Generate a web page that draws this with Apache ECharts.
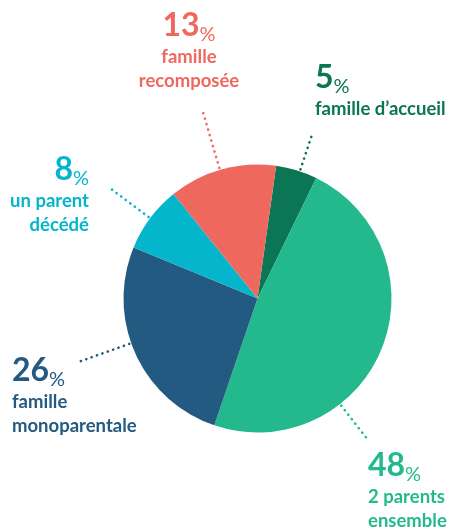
<!DOCTYPE html>
<html>
<head>
<meta charset="utf-8">
<script src="https://cdn.jsdelivr.net/npm/echarts@6.0.0/dist/echarts.min.js"></script>
<style>
  html, body { margin: 0; padding: 0; background: #fff; }
  #chart { width: 453px; height: 532px; }
</style>
</head>
<body>
<div id="chart"></div>
<script>
// slices in clockwise order, starting just right of 12 o'clock
const categories = ['famille d’accueil', '2 parents\nensemble', 'famille\nmonoparentale', 'un parent\ndécédé', 'famille\nrecomposée'];
const values = [5, 48, 26, 8, 13];
const colors = ['#0b7556', '#24b98c', '#235a81', '#04b5cb', '#ef685d'];

// pie geometry
const CX = 257.5, CY = 298.5, R = 134;

// where each callout goes (angle is clockwise from top, in degrees)
const callouts = [
    { angle: 18.4, len: 40, x: 315, y: 59, align: 'left' },
    { angle: 142, len: 46, x: 368, y: 447, align: 'left' },
    { angle: 250.5, len: 58, x: 12, y: 352, align: 'left' },
    { angle: 306.8, len: 52, x: 89, y: 151, align: 'right' },
    { angle: 343.7, len: 60, x: 189, y: 7, align: 'center' }
];

const FONT = 'Lato';

let chart = echarts.init(document.getElementById('chart'));

let data = categories.map((name, i) => ({
    name: name,
    value: values[i],
    itemStyle: { color: colors[i] },
    label: {
        color: colors[i],
        rich: {
            num: { fontFamily: FONT, fontWeight: 'bold', fontSize: 32, lineHeight: 38, color: colors[i], align: callouts[i].align },
            pct: { fontFamily: FONT, fontWeight: 'normal', fontSize: 20, lineHeight: 30, verticalAlign: 'bottom', color: colors[i], align: callouts[i].align },
            txt: { fontFamily: FONT, fontWeight: 'bold', fontSize: 18.5, lineHeight: 24, color: colors[i], align: callouts[i].align }
        }
    },
    labelLine: { lineStyle: { color: colors[i] } }
}));

chart.setOption({
    animation: false,
    series: [
        {
            type: 'pie',
            center: [CX, CY],
            radius: R,
            startAngle: 82,
            clockwise: true,
            avoidLabelOverlap: false,
            silent: true,
            itemStyle: { borderWidth: 0 },
            label: {
                show: true,
                position: 'outside',
                formatter: p => '{num|' + p.value + '}{pct|%}\n' +
                    p.name.split('\n').map(s => '{txt|' + s + '}').join('\n')
            },
            labelLine: {
                show: true,
                lineStyle: { width: 2.6, type: [0.1, 5.6], cap: 'round' }
            },
            labelLayout: function (p) {
                const c = callouts[p.dataIndex];
                const a = c.angle * Math.PI / 180;
                const pt = r => [CX + r * Math.sin(a), CY - r * Math.cos(a)];
                return {
                    x: c.x,
                    y: c.y,
                    align: c.align,
                    verticalAlign: 'top',
                    labelLinePoints: [pt(R + 2), pt(R + c.len / 2), pt(R + c.len)]
                };
            },
            data: data
        }
    ]
});
</script>
</body>
</html>
